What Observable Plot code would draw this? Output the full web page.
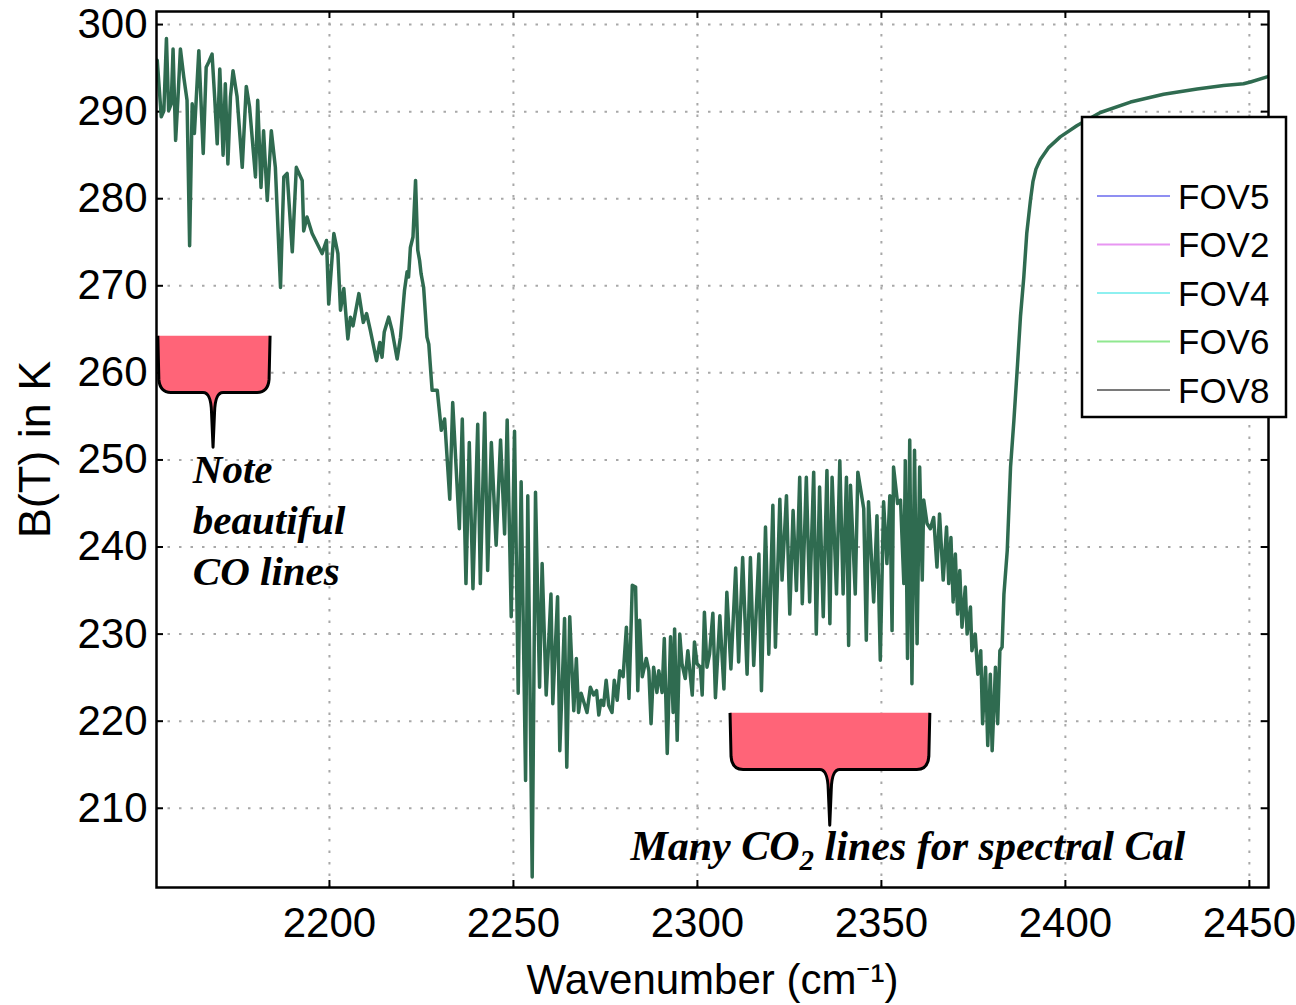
<!DOCTYPE html>
<html><head><meta charset="utf-8">
<script src="https://cdn.jsdelivr.net/npm/d3@7"></script>
<script src="https://cdn.jsdelivr.net/npm/@observablehq/plot@0.6"></script>
<style>body{margin:0;background:#fff;} svg{display:block;}</style>
</head><body><div id="chart"></div>
<script>
// Wavenumber (cm^-1) and brightness temperature (K)
const wavenumber = [
2153.2,2154.3,2155.0,2155.7,2156.3,2157.0,2157.5,2158.2,2158.8,2159.5,
2160.4,2161.3,2162.0,2162.7,2163.3,2164.5,2165.7,2166.5,2167.2,2168.1,
2168.8,2169.5,2170.2,2171.1,2171.7,2172.4,2173.1,2173.8,2174.9,2176.3,
2177.4,2178.3,2179.9,2180.5,2181.4,2182.1,2183.1,2184.2,2185.3,2186.7,
2187.6,2188.5,2189.9,2191.0,2192.6,2193.0,2193.9,2195.3,2198.0,2199.2,
2199.8,2201.2,2202.3,2203.0,2203.9,2205.0,2205.7,2206.4,2208.0,2209.2,
2210.1,2211.1,2212.8,2213.7,2214.3,2214.9,2216.1,2217.0,2218.4,2219.3,
2220.4,2221.1,2221.5,2222.0,2222.7,2223.4,2224.0,2224.5,2224.9,2225.6,
2226.5,2227.0,2227.9,2229.3,2230.4,2231.3,2232.7,2233.5,2235.3,2236.1,
2237.1,2238.0,2239.0,2240.3,2241.0,2242.2,2243.0,2244.0,2245.3,2246.5,
2247.6,2248.3,2249.4,2250.3,2251.3,2252.1,2253.3,2253.9,2255.1,2256.0,
2257.1,2257.8,2258.9,2260.2,2260.7,2262.0,2262.6,2263.9,2264.5,2265.3,
2266.4,2267.1,2267.7,2268.4,2270.0,2270.9,2271.8,2272.6,2273.2,2273.8,
2274.5,2275.2,2275.9,2276.8,2277.4,2278.2,2278.9,2279.8,2280.7,2281.4,
2282.3,2283.2,2283.8,2284.3,2285.0,2286.1,2286.8,2287.4,2288.1,2289.0,
2289.5,2290.4,2291.0,2291.8,2292.7,2293.4,2293.8,2294.5,2295.2,2295.8,
2296.7,2297.4,2298.6,2299.2,2299.9,2300.8,2301.3,2301.9,2302.6,2303.3,
2304.2,2304.9,2306.1,2307.2,2308.0,2309.1,2310.4,2311.2,2312.3,2313.5,
2314.4,2315.3,2316.7,2317.4,2318.5,2319.4,2320.5,2321.2,2322.4,2323.0,
2324.2,2325.1,2326.0,2326.9,2327.8,2328.5,2329.6,2330.5,2331.6,2332.3,
2333.2,2334.2,2335.2,2336.0,2336.6,2337.8,2338.7,2339.6,2340.5,2341.1,
2341.6,2342.9,2343.6,2345.2,2345.9,2346.5,2347.9,2348.8,2349.7,2350.6,
2351.5,2352.3,2352.9,2353.3,2354.4,2355.2,2356.1,2356.5,2357.1,2357.7,
2358.3,2359.0,2359.7,2360.4,2361.1,2361.5,2362.4,2363.3,2364.2,2365.1,
2365.8,2366.8,2367.7,2368.3,2368.9,2369.5,2370.1,2370.7,2371.3,2371.9,
2372.8,2373.3,2374.2,2374.6,2375.5,2376.2,2377.0,2377.5,2378.3,2378.9,
2379.6,2380.1,2381.0,2381.6,2382.2,2382.8,2383.3,2384.2,2385.1,2386.0,
2387.0,2387.8,2388.7,2389.5,2390.5,2391.2,2392.0,2393.2,2395.5,2398.6,
2403.2,2409.5,2417.7,2426.7,2435.8,2443.0,2448.4,2450.3,2454.8,2456.0
];
const brightnessT = [
295.9,289.4,290.1,298.4,290.1,290.9,297.2,286.7,291.3,297.2,
294.0,291.3,274.6,290.9,287.5,297.0,285.2,295.1,295.7,296.6,
291.7,286.3,294.9,285.0,293.2,284.0,291.7,294.7,291.7,283.6,
292.9,290.5,282.5,291.3,281.3,287.8,279.8,287.8,283.6,269.8,
282.5,282.9,273.9,283.6,282.1,276.3,277.9,276.0,273.7,275.2,
267.9,276.0,273.7,267.2,269.7,263.9,266.4,265.4,269.1,265.8,
266.8,264.9,261.4,263.5,261.8,264.7,266.4,264.9,261.6,264.1,
269.5,271.6,271.0,274.4,275.6,282.1,274.1,272.9,271.4,269.8,
264.1,263.3,258.0,258.0,253.4,254.7,245.5,256.6,242.1,254.7,
235.8,252.0,235.2,254.1,235.8,255.4,237.3,252.0,240.2,252.3,
241.5,254.6,232.0,253.3,223.2,247.5,213.2,245.9,202.1,246.3,
223.9,238.1,223.0,234.6,222.0,234.3,216.6,231.8,214.7,232.0,
221.2,227.2,221.0,223.2,221.0,223.9,223.0,223.5,220.7,222.4,
221.8,224.7,221.8,221.0,224.7,222.4,225.8,225.1,230.8,222.6,
235.6,235.4,223.5,231.6,225.1,227.2,225.8,219.7,226.2,223.3,
225.8,223.3,229.5,216.3,229.7,221.0,230.6,217.8,230.0,226.6,
224.9,228.1,223.0,229.1,226.6,226.2,223.0,232.5,226.2,227.7,
232.4,222.7,232.1,223.7,234.8,226.0,237.6,226.8,238.8,225.4,
238.8,226.4,239.2,223.5,242.3,227.7,244.8,228.5,245.5,236.2,
245.9,232.3,244.2,235.0,248.0,233.5,248.0,233.7,248.6,230.0,
246.9,232.0,248.8,231.2,248.0,234.6,249.9,234.6,248.0,228.7,
247.1,234.6,248.6,244.4,229.3,245.2,233.7,243.6,227.0,245.2,
238.1,245.9,230.4,249.2,245.0,245.4,235.8,249.9,227.2,252.3,
224.3,251.1,228.9,249.2,236.2,245.4,242.7,242.1,243.4,237.7,
243.8,236.2,242.3,235.8,241.1,233.7,239.2,232.3,237.3,230.8,
235.4,230.0,233.1,228.1,230.0,225.4,228.1,219.7,226.2,217.2,
225.4,216.6,226.2,219.7,228.1,228.5,234.6,239.6,249.2,254.5,
261.0,266.5,271.0,276.0,279.8,282.0,283.4,284.5,285.9,287.1,
288.4,289.9,291.1,292.0,292.6,293.0,293.2,293.4,294.0,294.2
];
const fovNames = ["FOV5", "FOV2", "FOV4", "FOV6", "FOV8"];
const fovColors = ["#8f8ff2", "#e896f2", "#8ef0f0", "#90e890", "#7a7a7a"];
const xTicks = [2200, 2250, 2300, 2350, 2400, 2450];
const yTicks = [210, 220, 230, 240, 250, 260, 270, 280, 290, 300];

// annotation anchors in data units
const callouts = [
  {x0: 2153.5, x1: 2184.0, xt: 2168.5, top: 264.2, bottom: 257.7, tip: 251.4},
  {x0: 2309.0, x1: 2363.3, xt: 2336.1, top: 220.9, bottom: 214.4, tip: 208.0}
];
const noteLines = ["Note", "beautiful", "CO lines"];
const noteAnchor = {x: 2163.0, y: [247.3, 241.4, 235.6]};
const co2Anchor = {x: 2357.3, y: 204.0};

const W = 1296, H = 1005;
const mL = 156, mR = 28, mT = 11, mB = 118;
const innerW = W - mL - mR, innerH = H - mT - mB;

const spectrum = wavenumber.map((w, i) => ({w, t: brightnessT[i]}));

const plot = Plot.plot({
  width: W, height: H,
  marginLeft: mL, marginRight: mR, marginTop: mT, marginBottom: mB,
  style: {fontFamily: "'Liberation Sans', Arial, Helvetica, sans-serif", fontSize: "42px", color: "black", background: "white", overflow: "visible"},
  x: {domain: [2153.0, 2455.2]},
  y: {domain: [200.9, 301.5]},
  marks: [
    Plot.gridX(xTicks, {stroke: "#a8a8a8", strokeOpacity: 1, strokeWidth: 2, strokeDasharray: "2.5,9"}),
    Plot.gridY(yTicks, {stroke: "#a8a8a8", strokeOpacity: 1, strokeWidth: 2, strokeDasharray: "2.5,9"}),
    Plot.tickY(yTicks, {y: d => d, insetRight: innerW - 7, stroke: "black", strokeWidth: 2}),
    Plot.tickY(yTicks, {y: d => d, insetLeft: innerW - 7, stroke: "black", strokeWidth: 2}),
    Plot.tickX(xTicks, {x: d => d, insetTop: innerH - 7, stroke: "black", strokeWidth: 2}),
    Plot.tickX(xTicks, {x: d => d, insetBottom: innerH - 7, stroke: "black", strokeWidth: 2}),
    Plot.line(spectrum, {x: "w", y: "t", stroke: "#2f6b50", strokeWidth: 3.5, strokeLinejoin: "round", clip: true}),
    Plot.axisX(xTicks, {anchor: "bottom", tickSize: 0, tickPadding: 20, tickFormat: d => String(d),
      label: "Wavenumber (cm⁻¹)", labelAnchor: "center", labelOffset: 106, labelArrow: "none"}),
    Plot.axisY(yTicks, {anchor: "left", tickSize: 0, tickPadding: 9, tickFormat: d => String(d),
      label: "B(T) in K", labelAnchor: "center", labelOffset: 138, labelArrow: "none"}),
    Plot.frame({stroke: "black", strokeWidth: 2.5})
  ]
});
document.getElementById("chart").appendChild(plot);

// enlarge the y-axis title a little, as in the reference
d3.select(plot).selectAll("[aria-label='y-axis label'] text").attr("font-size", 45);

const sx = plot.scale("x").apply, sy = plot.scale("y").apply;
const svg = d3.select(plot);

// callouts
const ann = svg.append("g");
for (const c of callouts) {
  const x0 = sx(c.x0), x1 = sx(c.x1), xt = sx(c.xt);
  const yTop = sy(c.top), yBot = sy(c.bottom), yTip = sy(c.tip);
  const r = 13, w = 10, n = 20;
  const d = `M${x0},${yTop} L${x0 + 1},${yBot - r} Q${x0 + 2},${yBot} ${x0 + r},${yBot} L${xt - w},${yBot} Q${xt - 2},${yBot} ${xt - 1.5},${yBot + n} L${xt},${yTip} L${xt + 1.5},${yBot + n} Q${xt + 2},${yBot} ${xt + w},${yBot} L${x1 - r},${yBot} Q${x1 - 2},${yBot} ${x1 - 1},${yBot - r} L${x1},${yTop}`;
  ann.append("path").attr("d", d + "Z").attr("fill", "#ff6478").attr("stroke", "none");
  ann.append("path").attr("d", d).attr("fill", "none").attr("stroke", "black").attr("stroke-width", 3).attr("stroke-linejoin", "round");
}
const noteText = ann.append("g")
  .attr("font-family", "'Liberation Serif', 'Times New Roman', serif")
  .attr("font-weight", "bold").attr("font-style", "italic").attr("font-size", 41).attr("fill", "black");
noteLines.forEach((s, i) => {
  noteText.append("text").attr("x", sx(noteAnchor.x)).attr("y", sy(noteAnchor.y[i]))
    .attr("text-anchor", "start").text(s);
});
const co2 = noteText.append("text").attr("x", sx(co2Anchor.x)).attr("y", sy(co2Anchor.y))
  .attr("text-anchor", "middle").attr("font-size", 42);
co2.append("tspan").text("Many CO");
co2.append("tspan").attr("font-size", 29).attr("dy", 10).text("2");
co2.append("tspan").attr("dy", -10).text(" lines for spectral Cal");

// legend
const lg = svg.append("g");
lg.append("rect").attr("x", 1082).attr("y", 117).attr("width", 204).attr("height", 300)
  .attr("fill", "white").attr("stroke", "black").attr("stroke-width", 2.5);
fovNames.forEach((name, i) => {
  const y = 196 + i * 48.5;
  lg.append("line").attr("x1", 1097).attr("x2", 1170).attr("y1", y).attr("y2", y)
    .attr("stroke", fovColors[i]).attr("stroke-width", 2);
  lg.append("text").attr("x", 1178).attr("y", y).attr("dy", "0.36em").attr("text-anchor", "start")
    .attr("font-size", 35).attr("fill", "black").text(name);
});
</script>
</body></html>
